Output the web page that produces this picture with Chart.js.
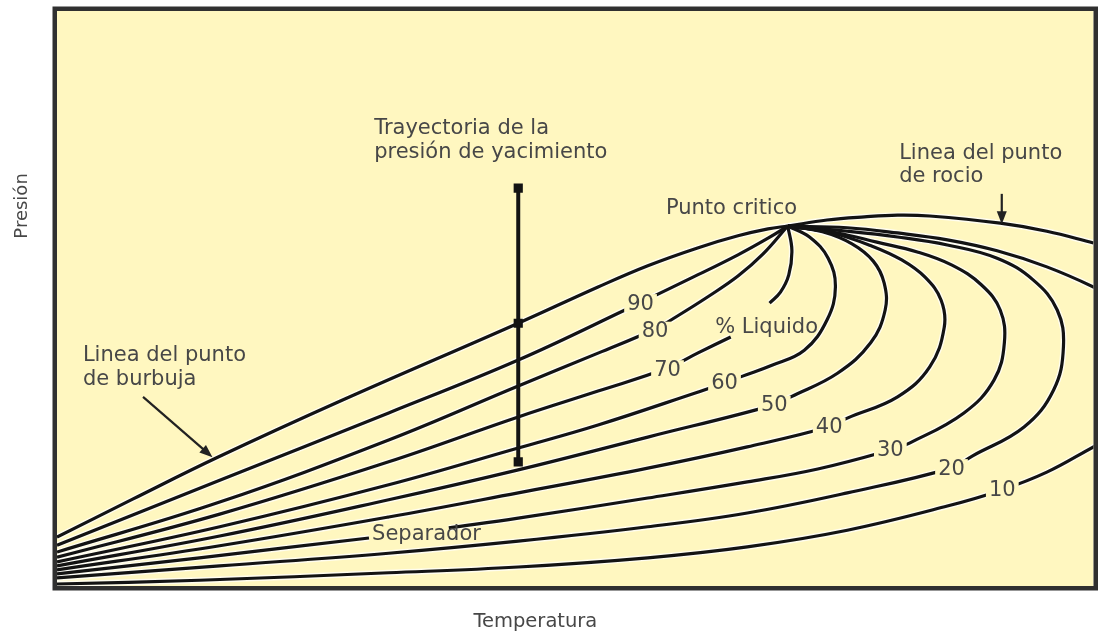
<!DOCTYPE html>
<html>
<head>
<meta charset="utf-8">
<script src="https://cdn.jsdelivr.net/npm/chart.js@4.4.1/dist/chart.umd.min.js"></script>
<style>
  html, body { margin: 0; padding: 0; background: #fff; }
</style>
</head>
<body>
<canvas id="phase" width="1100" height="632"></canvas>
<script>
// Temperature (x) and pressure (y) in relative units, 0-100 across the plot box
const bubbleLine = [[0,8.5],[7.3,15.1],[15.4,22.3],[27.5,32.3],[44.5,45.7],[52.2,52.0],[57.0,55.7],[61.8,58.8],[65.7,60.9],[68.6,62.1],[70.5,62.6]];
const liq90 = [[0,7.1],[15.7,18.4],[32.0,30.1],[44.5,39.3],[54.8,48.0],[61.8,54.1],[65.7,57.6],[68.6,60.5],[70.5,62.6]];
const liq80 = [[0,5.9],[15.7,14.6],[32.0,25.4],[44.5,34.8],[52.2,40.5],[57.7,44.7],[59.9,47.0],[62.8,50.3],[65.7,53.9],[68.1,57.7],[70.5,62.6]];
const liq70 = [[0,5.0],[15.7,12.5],[32.0,21.6],[44.5,29.4],[52.2,33.9],[58.9,37.9],[61.8,40.5],[65.0,43.3],null,[68.75,49.2],[69.8,51.1],[70.6,54.1],[70.9,58.4],[70.5,62.6]];
const liq60 = [[0,4.2],[15.7,10.3],[32.0,17.6],[44.5,24.0],[52.2,28.0],[61.8,33.7],[64.4,35.3],[66.15,36.5],[68.85,38.3],[72.1,41.0],[74.3,46.3],[75.1,52.0],[74.4,57.0],[72.6,60.7],[70.5,62.6]];
const liq50 = [[0,3.5],[15.7,8.7],[32.0,15.0],[44.5,20.2],[57.0,25.9],[69.2,31.5],[70.8,32.9],[75.3,37.0],[78.5,42.3],[79.9,48.0],[79.8,52.7],[78.75,56.5],[76.7,59.5],[73.85,61.6],[70.5,62.6]];
const liq40 = [[0,2.8],[15.7,7.0],[32.0,12.0],[44.5,16.2],[57.0,20.5],[66.6,24.2],[74.5,27.7],[76.25,29.2],[81.1,32.9],[84.2,38.1],[85.6,45.0],[85.3,49.7],[83.75,53.7],[81.5,56.7],[78.65,59.1],[74.8,61.4],[70.5,62.6]];
const liq30 = [[0,2.1],[13.75,4.9],[30.1,8.35],null,[37.8,10.1],[44.5,11.8],[57.0,15.3],[66.6,18.1],[73.4,20.35],[80.4,23.65],[82.3,24.9],[87.5,30.1],[90.4,35.8],[91.4,42.3],[91.0,48.0],[89.2,52.35],[86.35,55.8],[83.0,58.1],[79.1,59.8],[75.3,61.4],[70.5,62.6]];
const liq20 = [[0,1.4],[15.7,3.5],[32.0,5.7],[44.5,7.8],[57.0,10.3],[66.6,12.7],[76.25,16.2],[86.25,20.5],[88.3,22.6],[93.3,27.65],[96.15,34.1],[97.1,41.6],[96.5,48.0],[94.2,53.2],[90.7,57.0],[85.9,59.3],[81.1,60.7],[76.25,61.7],[70.5,62.6]];
const liq10 = [[0,0.35],[13.75,1.0],[32.0,2.3],[44.5,3.3],[57.0,4.9],[66.6,6.8],[76.25,9.7],[85.9,13.9],[91.15,16.7],[95.5,19.8],[100,24.2],[102.7,26.8],[104.9,30.6],[105.9,36.7],[105.3,42.8],[103.2,48.9],[100,52.0],[95.5,55.5],[90.7,58.3],[85.9,60.2],[81.1,61.4],[76.25,62.3],[70.5,62.6]];
const dewLine = [[70.5,62.6],[74.3,63.65],[77.9,64.2],[81.1,64.5],[84.2,64.35],[91.0,63.1],[95.5,61.7],[100,59.65]];
const trajectory = [[44.5,69.2],[44.5,45.7],[44.5,21.6]];

const pctLabels = ['90','80','70','60','50','40','30','20','10'];
const pctLabelAt = [[56.3,49.2],[57.7,44.4],[58.9,37.7],[64.4,35.3],[69.2,31.5],[74.5,27.7],[80.4,23.7],[86.3,20.5],[91.2,16.7]];

const noteText = ['Trayectoria de la','presión de yacimiento','Punto critico','Linea del punto','de rocio','Linea del punto','de burbuja','% Liquido','Separador'];
const noteAt = [[30.6,78.6],[30.6,74.4],[58.75,64.7],[81.25,74.3],[81.25,70.3],[2.5,39.1],[2.5,35.0],[63.5,44.0],[30.4,8.0]];
const arrowFromTo = [[[8.3,32.9],[15.0,22.4]],[[91.15,68.2],[91.15,62.9]]];

const PAPER = '#fff7c0';
const INK = '#131313';
const TEXT = '#474747';
const FONT = '"DejaVu Sans", sans-serif';

const curves = [bubbleLine, liq90, liq80, liq70, liq60, liq50, liq40, liq30, liq20, liq10, dewLine];
const toPts = arr => arr.map(p => p ? {x: p[0], y: p[1]} : {x: 0, y: null});

const datasets = [];
curves.forEach(c => {
  datasets.push({ data: toPts(c), showLine: true, pointRadius: 0, borderColor: 'rgba(255,255,255,0.75)',
    borderWidth: 6, tension: 0.4, clip: 0, spanGaps: false, order: 3 });
  datasets.push({ data: toPts(c), showLine: true, pointRadius: 0, borderColor: INK,
    borderWidth: 3.2, tension: 0.4, clip: 0, spanGaps: false, order: 2 });
});
datasets.push({ data: toPts(trajectory), showLine: true, borderColor: INK, borderWidth: 4, tension: 0,
  pointStyle: 'rect', pointRadius: 6.5, pointBackgroundColor: INK, pointBorderWidth: 0, clip: 0, order: 1 });

function drawArrow(ctx, x0, y0, x1, y1) {
  const ang = Math.atan2(y1 - y0, x1 - x0);
  const len = 13, half = 5;
  ctx.beginPath();
  ctx.moveTo(x0, y0);
  ctx.lineTo(x1 - Math.cos(ang) * len * 0.8, y1 - Math.sin(ang) * len * 0.8);
  ctx.stroke();
  ctx.beginPath();
  ctx.moveTo(x1, y1);
  ctx.lineTo(x1 - Math.cos(ang) * len - Math.sin(ang) * half, y1 - Math.sin(ang) * len + Math.cos(ang) * half);
  ctx.lineTo(x1 - Math.cos(ang) * len + Math.sin(ang) * half, y1 - Math.sin(ang) * len - Math.cos(ang) * half);
  ctx.closePath();
  ctx.fill();
}

const decor = {
  id: 'decor',
  beforeDraw(chart) {
    const {ctx, chartArea: a} = chart;
    ctx.save();
    ctx.fillStyle = '#fff';
    ctx.fillRect(0, 0, chart.width, chart.height);
    ctx.fillStyle = PAPER;
    ctx.fillRect(a.left, a.top, a.right - a.left, a.bottom - a.top);
    ctx.restore();
  },
  afterDatasetsDraw(chart) {
    const {ctx, chartArea: a, scales: {x, y}} = chart;
    const px = p => [x.getPixelForValue(p[0]), y.getPixelForValue(p[1])];
    ctx.save();
    ctx.font = '21px ' + FONT;

    // percentage labels sitting in gaps of their curves
    ctx.textAlign = 'center';
    ctx.textBaseline = 'middle';
    pctLabels.forEach((t, i) => {
      const [cx, cy] = px(pctLabelAt[i]);
      const w = ctx.measureText(t).width;
      ctx.fillStyle = PAPER;
      ctx.fillRect(cx - w / 2 - 3, cy - 9, w + 6, 18);
      ctx.fillStyle = TEXT;
      ctx.fillText(t, cx, cy + 1);
    });

    // annotations
    ctx.textAlign = 'left';
    ctx.textBaseline = 'alphabetic';
    ctx.fillStyle = TEXT;
    noteText.forEach((t, i) => {
      const [tx, ty] = px(noteAt[i]);
      ctx.fillText(t, tx, ty);
    });

    // arrows
    ctx.strokeStyle = '#222';
    ctx.fillStyle = '#222';
    ctx.lineWidth = 2.2;
    arrowFromTo.forEach(([p0, p1]) => {
      const [x0, y0] = px(p0), [x1, y1] = px(p1);
      drawArrow(ctx, x0, y0, x1, y1);
    });

    // frame
    ctx.strokeStyle = '#303030';
    ctx.lineWidth = 4.5;
    ctx.strokeRect(a.left - 2.25, a.top - 2.25, a.right - a.left + 4.5, a.bottom - a.top + 4.5);

    // axis titles
    ctx.fillStyle = TEXT;
    ctx.textAlign = 'center';
    ctx.textBaseline = 'middle';
    ctx.font = '19.5px ' + FONT;
    ctx.fillText('Temperatura', x.getPixelForValue(46.15), a.bottom + 36);
    ctx.translate(a.left - 35, y.getPixelForValue(66.1));
    ctx.rotate(-Math.PI / 2);
    ctx.font = '18px ' + FONT;
    ctx.fillText('Presión', 0, 0);
    ctx.restore();
  }
};

new Chart(document.getElementById('phase'), {
  type: 'scatter',
  data: { datasets },
  options: {
    responsive: false,
    animation: false,
    devicePixelRatio: 1,
    layout: { padding: { left: 57, right: 3, top: 11, bottom: 46 } },
    elements: { line: { capBezierPoints: false } },
    plugins: { legend: { display: false }, tooltip: { enabled: false } },
    scales: {
      x: { type: 'linear', min: 0, max: 100, display: false },
      y: { type: 'linear', min: 0, max: 100, display: false }
    }
  },
  plugins: [decor]
});
</script>
</body>
</html>
